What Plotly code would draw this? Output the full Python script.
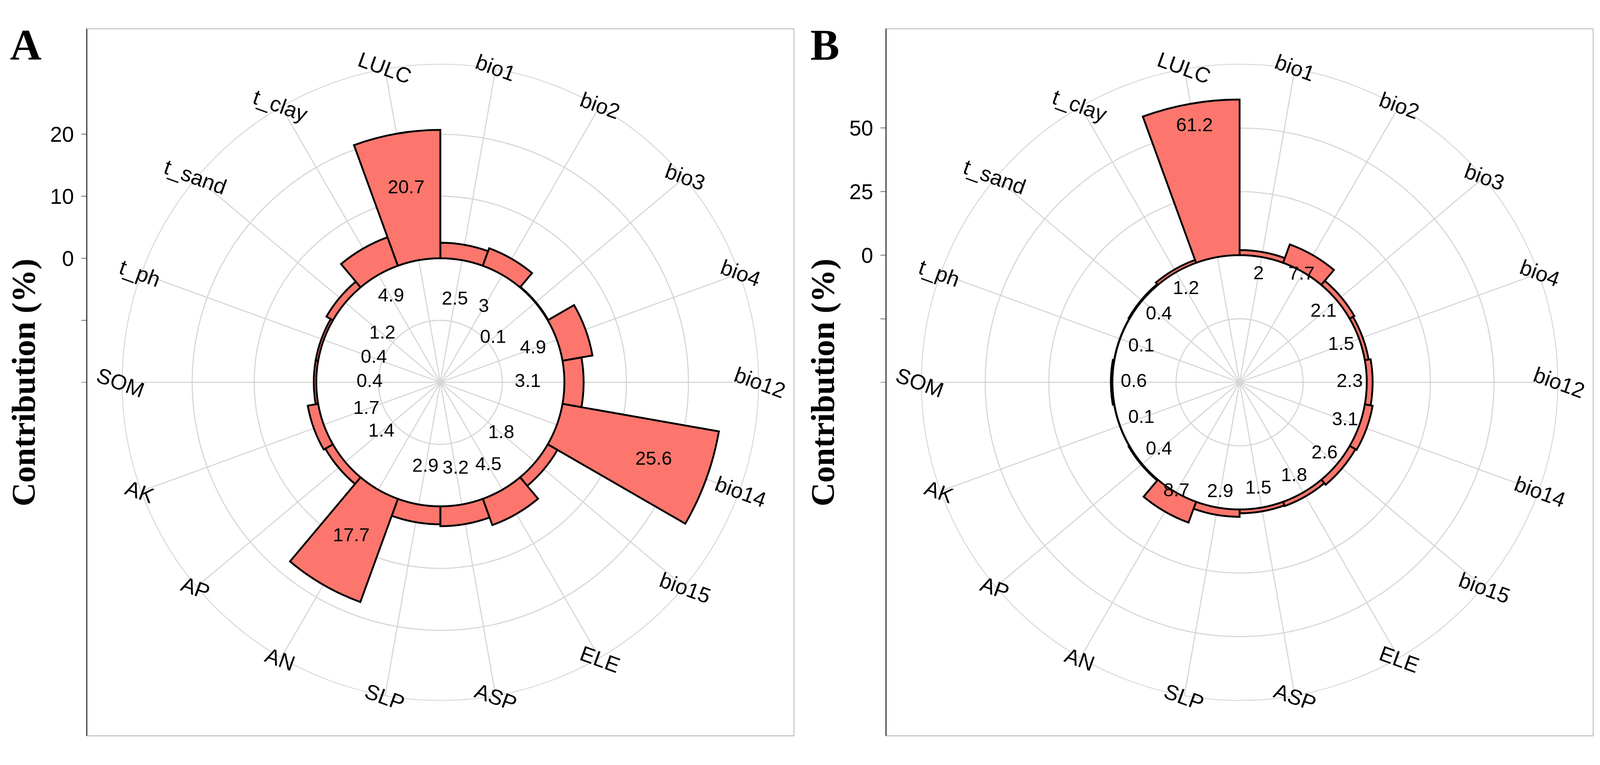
import math
import plotly.graph_objects as go

# ---------------- data ----------------
categories = ["bio1", "bio2", "bio3", "bio4", "bio12", "bio14", "bio15", "ELE", "ASP",
              "SLP", "AN", "AP", "AK", "SOM", "t_ph", "t_sand", "t_clay", "LULC"]
values_A = [2.5, 3, 0.1, 4.9, 3.1, 25.6, 1.8, 4.5, 3.2, 2.9, 17.7, 1.4, 1.7, 0.4, 0.4, 1.2, 4.9, 20.7]
values_B = [2, 7.7, 2.1, 1.5, 2.3, 3.1, 2.6, 1.8, 1.5, 2.9, 8.7, 0.4, 0.1, 0.6, 0.1, 0.4, 1.2, 61.2]
hole_A = -20          # radial value at the centre
hole_B = -50
breaks_A = [-20, -10, 0, 10, 20]
breaks_B = [-50, -25, 0, 25, 50]
label_offset = 9      # value labels drawn at value - offset

# ---------------- style / layout ----------------
W, H = 4324, 1959
BAR = "#FC766D"
GRID = "#D6D6D6"
SANS = "Liberation Sans"
SERIF = "Liberation Serif"
R_PX = 860            # outer circle radius in px
CY = 979              # centre y (px from top)
CX = {"A": 1190, "B": 3350}
BOX_HALF = R_PX / 0.9
N = len(categories)
STEP = 360 / N
FIRST = STEP / 2      # first category sits half a step clockwise from 12 o'clock
LABEL_ANGLE = 20


def fx(x):
    return x / W


def fy(y):
    return 1 - y / H


fig = go.Figure()
layout = dict(width=W, height=H, autosize=False, margin=dict(l=0, r=0, t=0, b=0),
              paper_bgcolor="white", plot_bgcolor="rgba(0,0,0,0)",
              showlegend=False, shapes=[], annotations=[])

panels = [("A", values_A, hole_A, breaks_A, "polar", "x", "y"),
          ("B", values_B, hole_B, breaks_B, "polar2", "x2", "y2")]

for name, vals, lo, breaks, pkey, xk, yk in panels:
    hi = lo + (max(vals) - lo) * 0.45 / 0.4   # outer edge like ggplot's 0.45 circle
    cx = CX[name]
    cxf, cyf = fx(cx), fy(CY)
    fig.add_trace(go.Barpolar(r=vals, theta=categories, base=0, subplot=pkey,
                              marker=dict(color=BAR, line=dict(color="black", width=5)),
                              hoverinfo="skip"))
    fig.add_trace(go.Scatterpolar(r=[v - label_offset for v in vals], theta=categories,
                                  text=[f"{v:g}" for v in vals], mode="text", subplot=pkey,
                                  textfont=dict(family=SANS, size=51, color="black"),
                                  hoverinfo="skip"))
    layout[pkey] = dict(
        domain=dict(x=[fx(cx - R_PX), fx(cx + R_PX)], y=[fy(CY + R_PX), fy(CY - R_PX)]),
        bgcolor="white", bargap=0,
        radialaxis=dict(range=[lo, hi], tickvals=breaks, showticklabels=False, ticks="",
                        showline=False, gridcolor=GRID, gridwidth=2.5),
        angularaxis=dict(type="category", categoryarray=categories, rotation=90 - FIRST,
                         direction="clockwise", showline=True, linecolor=GRID, linewidth=2.5,
                         gridcolor=GRID, gridwidth=2.5, ticks="", showticklabels=False),
    )
    # category labels centred on the outer circle, tilted like the original
    for i, cat in enumerate(categories):
        a = math.radians(FIRST + STEP * i)
        r_lab = R_PX + 4
        layout["annotations"].append(dict(
            text=cat, xref="paper", yref="paper", x=cxf, y=cyf,
            xshift=r_lab * math.sin(a), yshift=r_lab * math.cos(a),
            showarrow=False, xanchor="center", yanchor="middle", textangle=LABEL_ANGLE,
            font=dict(family=SANS, size=58, color="black")))
    # cartesian axis carrying the radial ticks on the left of the panel box
    bx0, bx1 = cx - BOX_HALF, cx + BOX_HALF
    by0, by1 = CY - BOX_HALF, CY + BOX_HALF
    span = (hi - lo) * BOX_HALF / R_PX
    fig.add_trace(go.Scatter(x=[], y=[], xaxis=xk, yaxis=yk, hoverinfo="skip"))
    xname = "xaxis" if xk == "x" else "xaxis2"
    yname = "yaxis" if yk == "y" else "yaxis2"
    layout[xname] = dict(domain=[fx(bx0), fx(bx1)], range=[0, 1], visible=False, anchor=yk)
    layout[yname] = dict(domain=[fy(by1), fy(by0)], range=[lo - span, lo + span],
                         anchor=xk, tickvals=breaks,
                         ticktext=[f"{b:g}" if b >= 0 else "" for b in breaks],
                         ticks="outside", ticklen=14, tickwidth=2.5, tickcolor="#9a9a9a",
                         tickfont=dict(family=SANS, size=58, color="black"),
                         ticklabelstandoff=8,
                         showline=False, showgrid=False, zeroline=False)
    # panel box
    layout["shapes"].append(dict(type="rect", xref="paper", yref="paper",
                                 x0=fx(bx0), x1=fx(bx1), y0=fy(by1), y1=fy(by0),
                                 line=dict(color="#BDBDBD", width=2.5), layer="below"))
    layout["shapes"].append(dict(type="line", xref="paper", yref="paper",
                                 x0=fx(bx0), x1=fx(bx0), y0=fy(by1), y1=fy(by0),
                                 line=dict(color="#333333", width=3)))
    layout["annotations"].append(dict(text="<b>Contribution (%)</b>", xref="paper", yref="paper",
                                      x=fx(bx0 - 171), y=cyf, textangle=-90,
                                      showarrow=False, xanchor="center", yanchor="middle",
                                      font=dict(family=SERIF, size=89, color="black")))
    layout["annotations"].append(dict(text=f"<b>{name}</b>", xref="paper", yref="paper",
                                      x=fx(bx0 - 165), y=1, showarrow=False,
                                      xanchor="center", yanchor="top",
                                      font=dict(family=SERIF, size=118, color="black")))

fig.update_layout(**layout)
# fit the fixed-size figure into whatever viewport the page gets (uniform scale, centred)
post = (
    "document.documentElement.style.margin='0';document.body.style.margin='0';"
    "document.body.style.overflow='hidden';"
    "var gd=document.getElementById('{plot_id}');"
    "var s=Math.min(window.innerWidth/%d, window.innerHeight/%d, 1);"
    "var dy=(window.innerHeight-%d*s)/2; if(dy<0){dy=0;}"
    "gd.style.transformOrigin='0 0';"
    "gd.style.transform='translate(0px,'+dy+'px) scale('+s+')';" % (W, H, H)
)
fig.write_html("out.html", post_script=post, default_width=f"{W}px", default_height=f"{H}px",
               config={"displayModeBar": False})
